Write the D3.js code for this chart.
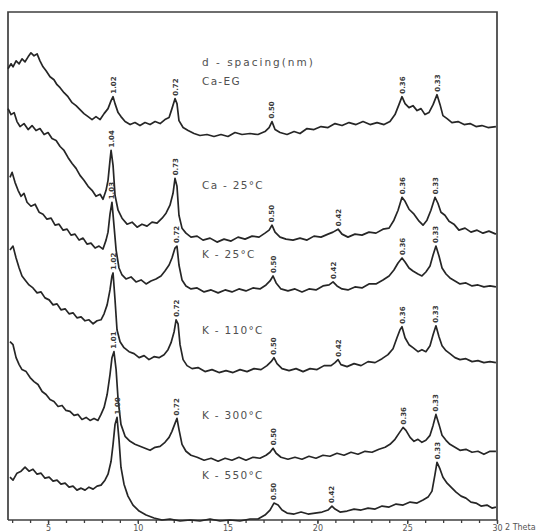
<!DOCTYPE html>
<html>
<head>
<meta charset="utf-8">
<title>d-spacing (nm) - XRD patterns</title>
<script src="https://cdn.jsdelivr.net/npm/d3@7/dist/d3.min.js"></script>
<style>
body, html {
  margin: 0;
  background: #fff;
}
svg { display: block; }

.trace {
  fill: none;
  stroke: #262626;
  stroke-width: 1.7px;
  stroke-linejoin: round;
}
.frame {
  fill: none;
  stroke: #3f3f3f;
  stroke-width: 1.7px;
}
.peak {
  font-family: "DejaVu Sans", sans-serif;
  font-size: 7px;
  font-weight: bold;
  fill: #3a3a3a;
}
.name {
  font-family: "DejaVu Sans", sans-serif;
  font-size: 10.5px;
  fill: #505050;
  letter-spacing: 1.3px;
}
.axis path, .axis line { stroke: #3f3f3f; stroke-width: 1.3px; }
.axis text, .axistitle { font-family: "DejaVu Sans", sans-serif; font-size: 8px; fill: #555; }
</style>
</head>
<body>
<script>
// ---- data : [2 theta (deg), intensity (counts, arbitrary)] ----
var sampleNames = ["Ca-EG", "Ca - 25°C", "K - 25°C", "K - 110°C", "K - 300°C", "K - 550°C"];
var traceOffsets = [388, 283, 232, 152, 63, 3];

var caEG = [[2.77,69],[2.94,74],[3.05,71],[3.22,77],[3.39,74],[3.55,79],[3.72,76],[3.89,81],[4.05,85],[4.22,82],
  [4.39,84],[4.55,77],[4.72,71],[4.89,67],[5.11,61],[5.33,58],[5.50,53],[5.67,50],[5.89,45],[6.11,41],[6.34,35],
  [6.56,32],[6.78,28],[7.00,24],[7.23,21],[7.45,18],[7.67,21],[7.90,18],[8.12,24],[8.34,29],[8.51,37],[8.62,41],
  [8.73,34],[8.90,25],[9.06,21],[9.29,16],[9.57,13],[9.84,15],[10.12,12],[10.40,15],[10.68,13],[10.96,16],
  [11.24,14],[11.51,18],[11.74,20],[11.90,29],[12.07,39],[12.18,34],[12.29,17],[12.52,10],[12.80,7],[13.13,4],
  [13.46,2],[13.85,3],[14.24,1],[14.63,3],[15.02,1],[15.41,5],[15.80,3],[16.25,4],[16.69,3],[17.08,6],[17.31,10],
  [17.47,16],[17.64,8],[17.92,5],[18.31,3],[18.70,6],[19.03,4],[19.42,9],[19.81,8],[20.20,11],[20.59,10],
  [20.98,14],[21.37,12],[21.76,15],[22.15,13],[22.54,16],[22.93,13],[23.32,15],[23.71,13],[24.04,16],[24.32,23],
  [24.54,33],[24.71,41],[24.88,34],[25.10,30],[25.32,32],[25.55,27],[25.77,29],[25.99,23],[26.21,25],[26.44,33],
  [26.66,43],[26.83,33],[26.99,22],[27.22,19],[27.49,15],[27.83,16],[28.17,13],[28.50,14],[28.83,11],[29.16,12],
  [29.50,10],[29.94,11]];

var ca25 = [[2.77,134],[2.94,128],[3.11,130],[3.27,121],[3.44,116],[3.66,119],[3.89,113],[4.11,117],[4.33,112],
  [4.55,114],[4.78,108],[5.00,110],[5.22,104],[5.45,102],[5.67,96],[5.89,92],[6.11,85],[6.34,79],[6.56,74],
  [6.78,67],[7.00,62],[7.23,56],[7.45,52],[7.67,46],[7.90,48],[8.06,43],[8.23,52],[8.34,62],[8.45,82],[8.51,92],
  [8.62,77],[8.73,47],[8.90,32],[9.12,24],[9.40,18],[9.68,20],[9.96,15],[10.23,18],[10.51,16],[10.79,20],
  [11.07,19],[11.35,24],[11.57,29],[11.79,37],[11.96,49],[12.07,64],[12.18,56],[12.29,27],[12.46,14],[12.68,9],
  [12.96,5],[13.30,6],[13.63,2],[14.02,4],[14.41,0],[14.80,3],[15.19,1],[15.58,5],[15.97,3],[16.36,6],[16.75,5],
  [17.08,9],[17.31,12],[17.47,17],[17.64,10],[17.92,5],[18.25,3],[18.64,2],[19.03,4],[19.42,2],[19.81,6],
  [20.20,5],[20.59,8],[20.87,10],[21.15,13],[21.37,8],[21.70,5],[22.09,8],[22.48,7],[22.87,10],[23.26,9],
  [23.65,13],[23.99,14],[24.26,22],[24.49,32],[24.71,45],[24.88,41],[25.10,33],[25.38,28],[25.66,21],[25.88,17],
  [26.10,22],[26.32,32],[26.55,45],[26.71,39],[26.88,30],[27.10,27],[27.33,21],[27.60,18],[27.88,12],[28.22,14],
  [28.55,10],[28.89,12],[29.22,9],[29.55,11],[29.94,8]];

var k25 = [[2.88,116],[3.00,121],[3.16,111],[3.33,103],[3.50,97],[3.66,100],[3.83,91],[4.05,87],[4.28,89],
  [4.50,81],[4.72,79],[4.94,74],[5.17,75],[5.39,68],[5.61,69],[5.84,63],[6.06,64],[6.28,58],[6.50,59],[6.73,53],
  [6.95,55],[7.17,49],[7.39,50],[7.62,45],[7.84,47],[8.06,44],[8.23,53],[8.34,61],[8.45,79],[8.56,91],[8.67,68],
  [8.79,43],[8.95,25],[9.12,18],[9.34,14],[9.62,16],[9.90,11],[10.18,13],[10.46,9],[10.73,12],[11.01,14],
  [11.29,17],[11.51,22],[11.74,28],[11.90,35],[12.07,45],[12.18,47],[12.29,28],[12.46,13],[12.68,7],[12.96,4],
  [13.30,5],[13.69,1],[14.08,3],[14.47,0],[14.86,3],[15.24,1],[15.63,4],[16.02,2],[16.41,5],[16.80,4],[17.14,8],
  [17.36,12],[17.53,17],[17.70,10],[17.97,4],[18.36,2],[18.75,4],[19.14,1],[19.53,4],[19.92,3],[20.31,7],
  [20.65,8],[20.87,11],[21.09,7],[21.37,4],[21.70,3],[22.09,6],[22.48,5],[22.87,9],[23.26,9],[23.65,13],
  [23.99,17],[24.26,23],[24.49,30],[24.71,35],[24.88,31],[25.10,25],[25.32,22],[25.60,19],[25.82,17],[26.04,21],
  [26.27,27],[26.44,38],[26.60,47],[26.77,37],[26.94,25],[27.16,19],[27.38,15],[27.66,12],[27.94,9],[28.27,10],
  [28.61,7],[28.94,8],[29.27,6],[29.61,7],[29.94,6]];

var k110 = [[2.88,123],[3.05,127],[3.22,115],[3.39,105],[3.55,97],[3.72,93],[3.94,88],[4.16,85],[4.39,80],
  [4.61,81],[4.83,75],[5.06,73],[5.28,68],[5.50,69],[5.72,63],[5.95,64],[6.17,59],[6.39,60],[6.61,55],[6.84,56],
  [7.06,52],[7.28,53],[7.51,49],[7.73,52],[7.95,53],[8.12,59],[8.29,68],[8.45,83],[8.56,97],[8.62,100],[8.73,73],
  [8.84,43],[9.01,31],[9.23,25],[9.51,21],[9.79,19],[10.07,15],[10.35,17],[10.62,13],[10.90,16],[11.18,15],
  [11.46,18],[11.68,23],[11.85,30],[12.02,41],[12.13,53],[12.24,49],[12.35,28],[12.52,13],[12.74,7],[13.02,4],
  [13.35,5],[13.74,1],[14.13,3],[14.52,0],[14.91,2],[15.30,0],[15.69,3],[16.08,1],[16.47,4],[16.86,3],[17.19,7],
  [17.42,11],[17.58,15],[17.75,9],[18.03,4],[18.42,2],[18.81,4],[19.20,1],[19.59,4],[19.98,3],[20.37,7],
  [20.76,7],[20.98,10],[21.15,13],[21.31,8],[21.65,6],[22.04,9],[22.43,7],[22.82,11],[23.21,10],[23.60,14],
  [23.93,18],[24.21,24],[24.43,35],[24.60,43],[24.71,46],[24.88,35],[25.10,28],[25.32,25],[25.60,21],[25.82,23],
  [26.04,21],[26.27,27],[26.44,38],[26.60,47],[26.77,36],[26.94,27],[27.16,22],[27.38,19],[27.66,15],[27.94,13],
  [28.27,14],[28.61,11],[28.94,12],[29.27,10],[29.61,11],[29.94,10]];

var k300 = [[2.88,120],[3.05,117],[3.22,104],[3.39,97],[3.55,92],[3.78,90],[4.00,84],[4.22,80],[4.44,77],
  [4.67,70],[4.89,67],[5.11,62],[5.33,60],[5.56,55],[5.78,56],[6.00,51],[6.22,50],[6.45,46],[6.67,47],[6.89,42],
  [7.12,44],[7.34,41],[7.56,43],[7.78,41],[7.95,47],[8.12,54],[8.29,67],[8.45,87],[8.56,104],[8.67,110],[8.79,92],
  [8.90,62],[9.06,37],[9.29,25],[9.57,20],[9.84,17],[10.12,15],[10.40,13],[10.68,11],[10.96,14],[11.24,15],
  [11.51,19],[11.74,24],[11.90,30],[12.07,38],[12.18,43],[12.29,32],[12.46,17],[12.68,10],[12.96,6],[13.30,4],
  [13.69,1],[14.08,3],[14.47,0],[14.86,3],[15.24,1],[15.63,4],[16.02,1],[16.41,4],[16.80,3],[17.14,6],[17.36,9],
  [17.53,13],[17.70,8],[17.97,4],[18.36,2],[18.75,4],[19.14,2],[19.53,5],[19.92,3],[20.31,6],[20.70,5],[21.09,8],
  [21.48,6],[21.87,9],[22.26,7],[22.65,10],[23.04,9],[23.43,12],[23.77,14],[24.04,17],[24.32,22],[24.54,28],
  [24.77,34],[24.93,31],[25.16,24],[25.38,20],[25.60,22],[25.82,19],[26.04,21],[26.27,26],[26.44,36],[26.60,47],
  [26.77,37],[26.94,26],[27.16,21],[27.38,17],[27.66,14],[27.94,11],[28.27,12],[28.61,9],[28.94,10],[29.27,7],
  [29.61,10],[29.94,10]];

var k550 = [[2.88,44],[3.05,41],[3.27,48],[3.50,50],[3.72,54],[3.94,50],[4.16,52],[4.39,47],[4.61,48],[4.83,43],
  [5.06,44],[5.28,40],[5.50,41],[5.72,37],[5.95,38],[6.17,34],[6.39,35],[6.61,31],[6.84,33],[7.06,31],[7.28,34],
  [7.51,32],[7.73,35],[7.95,36],[8.17,41],[8.34,47],[8.51,60],[8.62,77],[8.73,97],[8.84,104],[8.95,82],[9.06,54],
  [9.23,37],[9.45,25],[9.73,16],[10.07,10],[10.46,6],[10.90,3],[11.35,1],[11.79,2],[12.35,0],[12.91,1],[13.46,0],
  [14.02,2],[14.58,0],[15.13,1],[15.69,0],[16.25,2],[16.69,2],[17.08,6],[17.36,11],[17.58,18],[17.81,16],
  [18.03,11],[18.31,8],[18.70,7],[19.09,9],[19.48,7],[19.87,8],[20.26,9],[20.59,11],[20.81,15],[20.98,12],
  [21.26,9],[21.65,10],[22.04,12],[22.43,11],[22.82,13],[23.21,12],[23.60,15],[23.99,14],[24.38,17],[24.77,16],
  [25.16,19],[25.55,18],[25.88,21],[26.16,24],[26.38,30],[26.55,47],[26.66,59],[26.83,52],[26.99,44],[27.22,38],
  [27.44,34],[27.72,29],[28.00,25],[28.27,23],[28.55,19],[28.83,18],[29.11,15],[29.44,16],[29.72,13],[29.94,14]];

// peak d-spacing labels (nm) : [2 theta, label]
var peaksCaEG = [[8.62,"1.02"],[12.07,"0.72"],[17.47,"0.50"],[24.71,"0.36"],[26.66,"0.33"]];
var peaksCa25 = [[8.51,"1.04"],[12.07,"0.73"],[17.47,"0.50"],[21.15,"0.42"],[24.71,"0.36"],[26.55,"0.33"]];
var peaksK25  = [[8.56,"1.03"],[12.18,"0.72"],[17.53,"0.50"],[20.87,"0.42"],[24.71,"0.36"],[26.60,"0.33"]];
var peaksK110 = [[8.62,"1.02"],[12.13,"0.72"],[17.58,"0.50"],[21.15,"0.42"],[24.71,"0.36"],[26.60,"0.33"]];
var peaksK300 = [[8.67,"1.01"],[12.18,"0.72"],[17.53,"0.50"],[24.77,"0.36"],[26.60,"0.33"]];
var peaksK550 = [[8.84,"1.00"],[17.58,"0.50"],[20.81,"0.42"],[26.66,"0.33"]];

var xTicks = [5, 10, 15, 20, 25, 30];
var minorTicks = d3.range(3, 31);
var axisTitle = "2 Theta";

var traces = [caEG, ca25, k25, k110, k300, k550];
var peakSets = [peaksCaEG, peaksCa25, peaksK25, peaksK110, peaksK300, peaksK550];

// ---- layout ----
var W = 540, H = 532;
var mLeft = 8, mRight = 497, mTop = 12, mBottom = 520;
var nameX = 202;
var nameY = [85, 189, 258, 334, 419, 479];

var svg = d3.select("body").append("svg")
  .attr("width", W)
  .attr("height", H);

var x = d3.scaleLinear().domain([2.77, 30]).range([mLeft, mRight]);
var y = d3.scaleLinear().domain([0, 514]).range([mBottom + 4, mTop]);

var line = d3.line()
  .x(function(d) { return x(d[0]); })
  .y(function(d) { return y(d[1]); });

// frame (left, top, right)
svg.append("path")
  .attr("class", "frame")
  .attr("d", "M" + mLeft + "," + mBottom + "V" + mTop + "H" + mRight + "V" + mBottom);

// bottom axis : minor ticks every degree, labels every 5
svg.append("g")
  .attr("class", "axis")
  .attr("transform", "translate(0," + mBottom + ")")
  .call(d3.axisBottom(x).tickValues(minorTicks).tickSize(3).tickFormat(""))
  .select(".domain").attr("d", "M" + mLeft + ",0H" + mRight);

svg.append("g")
  .attr("class", "axis")
  .attr("transform", "translate(0," + mBottom + ")")
  .call(d3.axisBottom(x).tickValues(xTicks).tickSize(4).tickPadding(1))
  .select(".domain").remove();

svg.append("text")
  .attr("class", "axistitle")
  .attr("x", x(30) + 8)
  .attr("y", mBottom + 10)
  .text(axisTitle);

// traces
traces.forEach(function(tr, i) {
  var off = traceOffsets[i];
  var shifted = tr.map(function(d) { return [d[0], d[1] + off]; });
  svg.append("path")
    .datum(shifted)
    .attr("class", "trace")
    .attr("d", line);

  // peak labels, rotated, above each peak
  peakSets[i].forEach(function(p) {
    var near = tr.filter(function(d) { return Math.abs(d[0] - p[0]) < 0.25; });
    var peakTop = d3.max(near, function(d) { return d[1]; }) + off;
    svg.append("text")
      .attr("class", "peak")
      .attr("transform", "translate(" + (x(p[0]) + 2.5) + "," + (y(peakTop) - 3) + ") rotate(-90)")
      .attr("text-anchor", "start")
      .text(p[1]);
  });

  svg.append("text")
    .attr("class", "name")
    .attr("x", nameX)
    .attr("y", nameY[i])
    .text(sampleNames[i]);
});

svg.append("text")
  .attr("class", "name")
  .attr("x", nameX)
  .attr("y", 66)
  .style("letter-spacing", "2px")
  .text("d - spacing(nm)");
</script>
</body>
</html>
